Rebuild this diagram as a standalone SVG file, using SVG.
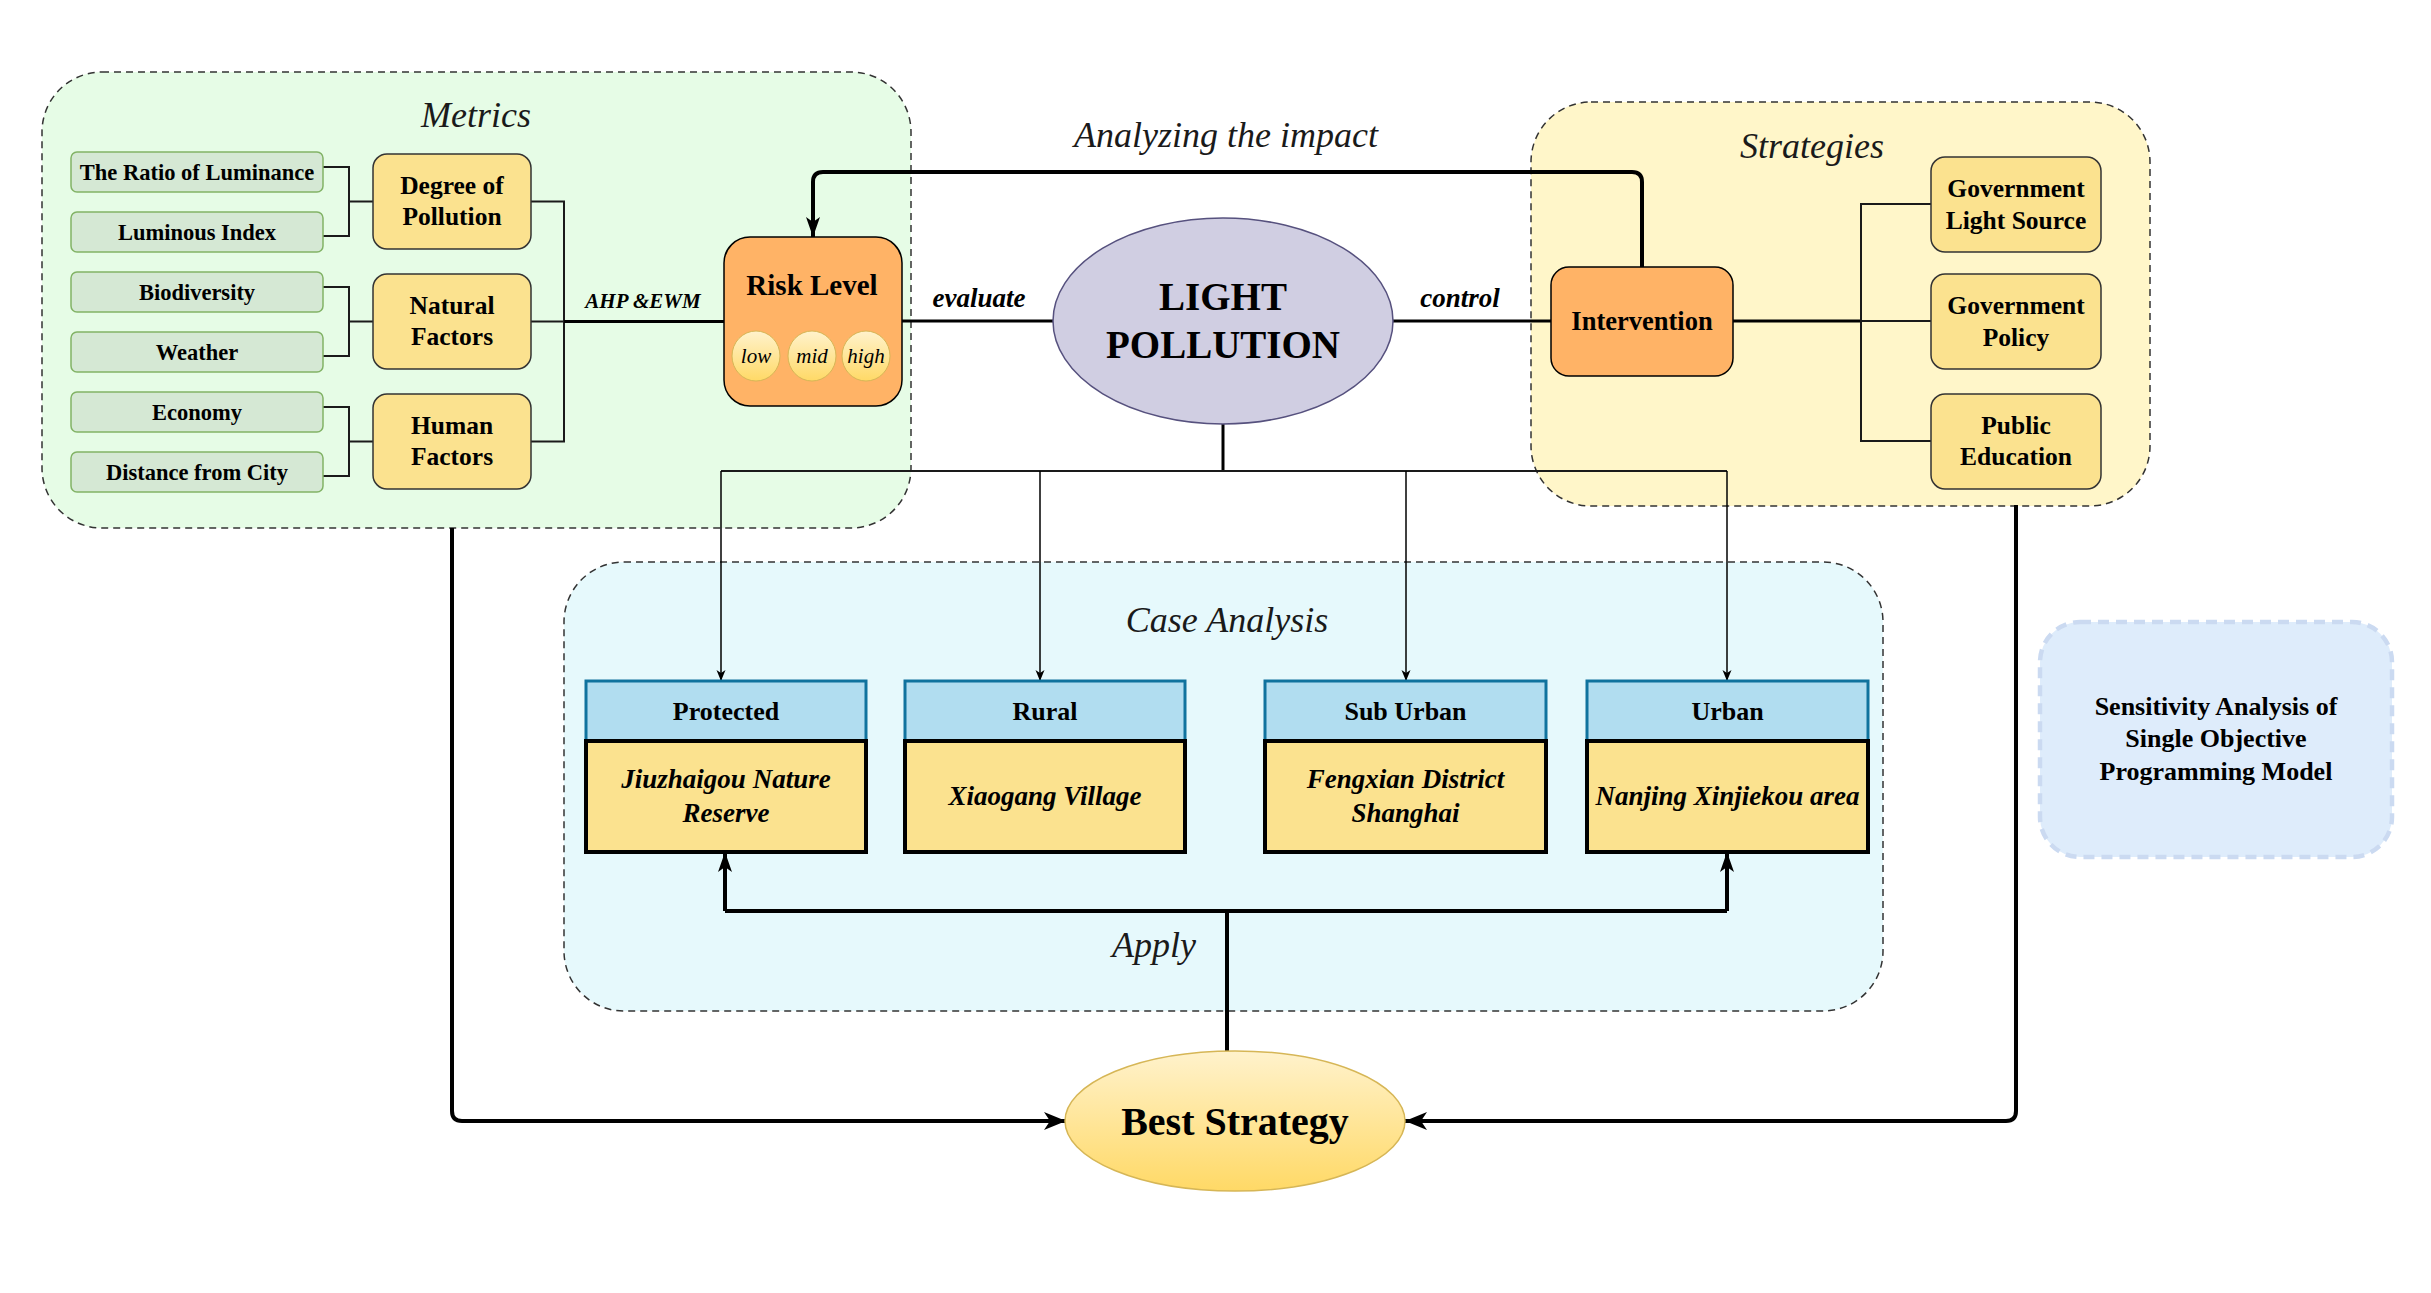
<svg xmlns="http://www.w3.org/2000/svg" width="2431" height="1293" viewBox="0 0 2431 1293">
<defs>
  <linearGradient id="gold" x1="0" y1="0" x2="0" y2="1">
    <stop offset="0" stop-color="#fff2cc"/>
    <stop offset="1" stop-color="#ffd966"/>
  </linearGradient>
  <marker id="arrBig" markerWidth="24" markerHeight="20" refX="22" refY="10" orient="auto" markerUnits="userSpaceOnUse">
    <path d="M0,1 L22,10 L0,19 L6,10 Z" fill="#000"/>
  </marker>
  <marker id="arrMid" markerWidth="22" markerHeight="16" refX="20" refY="8" orient="auto" markerUnits="userSpaceOnUse">
    <path d="M0,1 L20,8 L0,15 L5,8 Z" fill="#000"/>
  </marker>
  <marker id="arrSmall" markerWidth="12" markerHeight="10" refX="11" refY="5" orient="auto" markerUnits="userSpaceOnUse">
    <path d="M0,0.5 L11,5 L0,9.5 L3,5 Z" fill="#000"/>
  </marker>
  <style>
    text { font-family: "Liberation Serif", "Times New Roman", serif; text-anchor: middle; fill: #000; }
    .title { font-style: italic; font-size: 36px; fill: #1a1a1a; }
    .container { stroke: #333; stroke-width: 1.5; stroke-dasharray: 7 5; }
    .leaf { fill: #d5e8d4; stroke: #82b366; stroke-width: 1.5; }
    .leafT { font-weight: bold; font-size: 22.5px; }
    .yel { fill: #fbe28f; stroke: #333; stroke-width: 1.5; }
    .yelT { font-weight: bold; font-size: 25.5px; }
    .orange { fill: #ffb366; stroke: #000; stroke-width: 1.5; }
    .lbl { font-weight: bold; font-style: italic; font-size: 27px; }
    .hdr { fill: #b1ddf0; stroke: #10739e; stroke-width: 3; }
    .body { fill: #fbe28f; stroke: #000; stroke-width: 4; }
    .hdrT { font-weight: bold; font-size: 26px; }
    .bodyT { font-weight: bold; font-style: italic; font-size: 27px; }
    .ln { fill: none; stroke: #1a1a1a; stroke-width: 2; }
    .ln3 { fill: none; stroke: #000; stroke-width: 3; }
    .ln4 { fill: none; stroke: #000; stroke-width: 4; }
    .thin { fill: none; stroke: #000; stroke-width: 1.5; }
    .pill { fill: url(#gold); stroke: #d6b656; stroke-width: 1; }
    .pillT { font-style: italic; font-size: 21px; }
  </style>
</defs>
<rect width="2431" height="1293" fill="#fff"/>

<!-- containers -->
<g id="metrics-container">
  <rect class="container" x="42" y="72" width="869" height="456" rx="60" fill="#e6fce6"/>
  <text class="title" x="476" y="127">Metrics</text>
</g>
<g id="strategies-container">
  <rect class="container" x="1531" y="102" width="619" height="404" rx="60" fill="#fff6c9"/>
  <text class="title" x="1812" y="158">Strategies</text>
</g>
<g id="case-container">
  <rect class="container" x="564" y="562" width="1319" height="449" rx="60" fill="#e6f9fc"/>
  <text class="title" x="1227" y="632">Case Analysis</text>
</g>

<!-- connectors -->
<g id="connectors">
  <path class="ln" d="M323,167 H349 V236 H323 M349,201.5 H373"/>
  <path class="ln" d="M323,287 H349 V356 H323 M349,321.5 H373"/>
  <path class="ln" d="M323,407 H349 V476 H323 M349,441.5 H373"/>
  <path class="ln" d="M531,201.5 H564 V441.5 H531 M531,321.5 H564"/>
  <path class="ln3" d="M564,321.5 H724"/>
  <path class="ln3" d="M902,321 H1054"/>
  <path class="ln3" d="M1392,321 H1551"/>
  <path class="ln3" d="M1733,321 H1861"/>
  <path class="ln" d="M1931,204 H1861 V441 H1931 M1861,321 H1931"/>
  <path class="ln4" d="M1642,267 V182 Q1642,172 1632,172 H823 Q813,172 813,182 V237" marker-end="url(#arrMid)"/>
  <path class="ln3" d="M1223,423 V471"/>
  <path class="ln" d="M721,471 H1727"/>
  <path class="thin" d="M721,471 V681" marker-end="url(#arrSmall)"/>
  <path class="thin" d="M1040,471 V681" marker-end="url(#arrSmall)"/>
  <path class="thin" d="M1406,471 V681" marker-end="url(#arrSmall)"/>
  <path class="thin" d="M1727,471 V681" marker-end="url(#arrSmall)"/>
  <path class="ln4" d="M1227,1051 V911"/>
  <path class="ln4" d="M725,911 H1727"/>
  <path class="ln4" d="M725,911 V852" marker-end="url(#arrMid)"/>
  <path class="ln4" d="M1727,911 V852" marker-end="url(#arrMid)"/>
  <path class="ln4" d="M452,528 V1111 Q452,1121 462,1121 H1066" marker-end="url(#arrBig)"/>
  <path class="ln4" d="M2016,505 V1111 Q2016,1121 2006,1121 H1405" marker-end="url(#arrBig)"/>
  <text class="lbl" x="643" y="308" style="font-size:21px">AHP &amp;EWM</text>
  <text class="lbl" x="979" y="307">evaluate</text>
  <text class="lbl" x="1460" y="307">control</text>
  <text class="title" x="1226" y="147">Analyzing the impact</text>
  <text class="title" x="1154" y="957">Apply</text>
</g>

<!-- metric leaves -->
<g id="leaf-ratio"><rect class="leaf" x="71" y="152" width="252" height="40" rx="6"/><text class="leafT" x="197" y="179.5">The Ratio of Luminance</text></g>
<g id="leaf-luminous"><rect class="leaf" x="71" y="212" width="252" height="40" rx="6"/><text class="leafT" x="197" y="239.5">Luminous Index</text></g>
<g id="leaf-biodiversity"><rect class="leaf" x="71" y="272" width="252" height="40" rx="6"/><text class="leafT" x="197" y="299.5">Biodiversity</text></g>
<g id="leaf-weather"><rect class="leaf" x="71" y="332" width="252" height="40" rx="6"/><text class="leafT" x="197" y="359.5">Weather</text></g>
<g id="leaf-economy"><rect class="leaf" x="71" y="392" width="252" height="40" rx="6"/><text class="leafT" x="197" y="419.5">Economy</text></g>
<g id="leaf-distance"><rect class="leaf" x="71" y="452" width="252" height="40" rx="6"/><text class="leafT" x="197" y="479.5">Distance from City</text></g>

<!-- metric groups -->
<g id="degree"><rect class="yel" x="373" y="154" width="158" height="95" rx="14"/><text class="yelT" x="452" y="193.5">Degree of</text><text class="yelT" x="452" y="225">Pollution</text></g>
<g id="natural"><rect class="yel" x="373" y="274" width="158" height="95" rx="14"/><text class="yelT" x="452" y="313.5">Natural</text><text class="yelT" x="452" y="345">Factors</text></g>
<g id="human"><rect class="yel" x="373" y="394" width="158" height="95" rx="14"/><text class="yelT" x="452" y="433.5">Human</text><text class="yelT" x="452" y="465">Factors</text></g>

<!-- risk level -->
<g id="risk-level">
  <rect class="orange" x="724" y="237" width="178" height="169" rx="26"/>
  <text x="812" y="295" style="font-weight:bold;font-size:29px">Risk Level</text>
  <ellipse class="pill" cx="756" cy="356" rx="24" ry="25"/>
  <ellipse class="pill" cx="812" cy="356" rx="24" ry="25"/>
  <ellipse class="pill" cx="866" cy="356" rx="24" ry="25"/>
  <text class="pillT" x="756" y="363">low</text>
  <text class="pillT" x="812" y="363">mid</text>
  <text class="pillT" x="866" y="363">high</text>
</g>

<!-- light pollution -->
<g id="light-pollution">
  <ellipse cx="1223" cy="321" rx="170" ry="103" fill="#d0cee2" stroke="#56517e" stroke-width="1.5"/>
  <text x="1223" y="310" style="font-weight:bold;font-size:39px">LIGHT</text>
  <text x="1223" y="358" style="font-weight:bold;font-size:39px">POLLUTION</text>
</g>

<!-- intervention -->
<g id="intervention">
  <rect class="orange" x="1551" y="267" width="182" height="109" rx="18"/>
  <text x="1642" y="330" style="font-weight:bold;font-size:26.5px">Intervention</text>
</g>

<!-- strategies -->
<g id="gov-light"><rect class="yel" x="1931" y="157" width="170" height="95" rx="14"/><text class="yelT" x="2016" y="196.5">Government</text><text class="yelT" x="2016" y="228.5">Light Source</text></g>
<g id="gov-policy"><rect class="yel" x="1931" y="274" width="170" height="95" rx="14"/><text class="yelT" x="2016" y="314">Government</text><text class="yelT" x="2016" y="345.5">Policy</text></g>
<g id="public-edu"><rect class="yel" x="1931" y="394" width="170" height="95" rx="14"/><text class="yelT" x="2016" y="433.5">Public</text><text class="yelT" x="2016" y="465">Education</text></g>

<!-- cases -->
<g id="case-protected">
  <rect class="hdr" x="586" y="681" width="280" height="60"/>
  <rect class="body" x="586" y="741" width="280" height="111"/>
  <text class="hdrT" x="726" y="720">Protected</text>
  <text class="bodyT" x="726" y="788">Jiuzhaigou Nature</text>
  <text class="bodyT" x="726" y="821.5">Reserve</text>
</g>
<g id="case-rural">
  <rect class="hdr" x="905" y="681" width="280" height="60"/>
  <rect class="body" x="905" y="741" width="280" height="111"/>
  <text class="hdrT" x="1045" y="720">Rural</text>
  <text class="bodyT" x="1045" y="805">Xiaogang Village</text>
</g>
<g id="case-suburban">
  <rect class="hdr" x="1265" y="681" width="281" height="60"/>
  <rect class="body" x="1265" y="741" width="281" height="111"/>
  <text class="hdrT" x="1405.5" y="720">Sub Urban</text>
  <text class="bodyT" x="1405.5" y="788">Fengxian District</text>
  <text class="bodyT" x="1405.5" y="821.5">Shanghai</text>
</g>
<g id="case-urban">
  <rect class="hdr" x="1587" y="681" width="281" height="60"/>
  <rect class="body" x="1587" y="741" width="281" height="111"/>
  <text class="hdrT" x="1727.5" y="720">Urban</text>
  <text class="bodyT" x="1727.5" y="805">Nanjing Xinjiekou area</text>
</g>

<!-- best strategy -->
<g id="best-strategy">
  <ellipse cx="1235" cy="1121" rx="170" ry="70" fill="url(#gold)" stroke="#d6b656" stroke-width="1.5"/>
  <text x="1235" y="1135" style="font-weight:bold;font-size:40px">Best Strategy</text>
</g>

<!-- sensitivity -->
<g id="sensitivity">
  <rect x="2040" y="622" width="352" height="235" rx="40" fill="#deecfb" stroke="#cbdaf1" stroke-width="4.5" stroke-dasharray="11 7"/>
  <text x="2216" y="715" style="font-weight:bold;font-size:26px">Sensitivity Analysis of</text>
  <text x="2216" y="747" style="font-weight:bold;font-size:26px">Single Objective</text>
  <text x="2216" y="780" style="font-weight:bold;font-size:26px">Programming Model</text>
</g>
</svg>
